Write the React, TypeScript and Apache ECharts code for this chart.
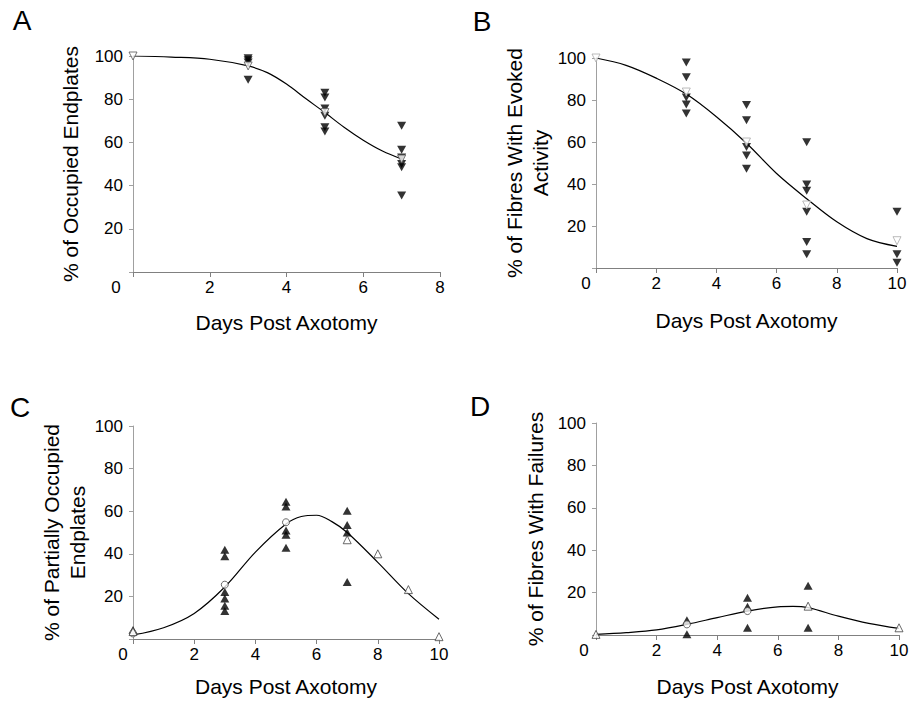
import React, { useEffect, useRef } from "react";
import * as echarts from "echarts";

// ---------- Panel A ----------
const A_CURVE_DAYS = [0, 1, 2, 3, 3.5, 4, 4.5, 5, 5.5, 6, 6.5, 7];
const A_CURVE = [100, 99.5, 98.5, 95.4, 92.3, 87, 80.3, 73.8, 67, 61, 56, 52.3];
const A_FILLED_DAYS = [3, 3, 3, 3, 5, 5, 5, 5, 5, 5, 7, 7, 7, 7, 7, 7];
const A_FILLED = [99, 98, 97, 89, 83, 80.8, 75.7, 72.3, 67, 65, 67.7, 56.6, 53, 50, 48.5, 35.4];
const A_MEAN_DAYS = [0, 3, 5, 7];
const A_MEAN = [100, 95.4, 73.8, 52.3];

// ---------- Panel B ----------
const B_CURVE_DAYS = [0, 1, 2, 3, 4, 5, 6, 7, 8, 9, 10];
const B_CURVE = [100, 96.5, 90.4, 82.8, 72, 59.4, 45, 33, 22, 14, 10.3];
const B_FILLED_DAYS = [3, 3, 3, 3, 3, 5, 5, 5, 5, 5, 7, 7, 7, 7, 7, 7, 10, 10, 10];
const B_FILLED = [97.8, 90.8, 81.2, 77.9, 73.6, 77.6, 70.4, 57.6, 53.6, 47.3, 59.9, 39.8, 36.8, 26.8, 12.4, 6.5, 26.8, 6.5, 2.5];
const B_MEAN_DAYS = [0, 3, 5, 7, 10];
const B_MEAN = [100, 83.8, 60, 30, 13];

// ---------- Panel C ----------
const C_CURVE_DAYS = [0, 1, 2, 3, 4, 5, 5.5, 6, 6.5, 7, 8, 9, 10];
const C_CURVE = [1.9, 5.3, 12, 24.4, 40.8, 54, 57.5, 58.1, 55.1, 50, 36, 21.3, 9.3];
const C_FILLED_DAYS = [0, 3, 3, 3, 3, 3, 3, 5, 5, 5, 5, 5, 7, 7, 7, 7];
const C_FILLED = [4.2, 41.9, 38.9, 22.1, 19, 15.6, 13.1, 64.4, 62.2, 50.9, 48.9, 42.8, 60.2, 53.5, 50, 26.8];
const C_CIRCLE_DAYS = [0, 3, 5];
const C_CIRCLE = [2.6, 25.5, 54.8];
const C_OPEN_TRI_DAYS = [0, 7, 8, 9, 10];
const C_OPEN_TRI = [3.5, 46.6, 40, 23.2, 1.1];

// ---------- Panel D ----------
const D_CURVE_DAYS = [0, 1, 2, 3, 4, 5, 6, 6.5, 7, 8, 9, 10];
const D_CURVE = [0.3, 1.1, 2.4, 5, 8.2, 11.3, 13.3, 13.5, 12.9, 8.9, 5.5, 3.1];
const D_FILLED_DAYS = [3, 3, 5, 5, 5, 7, 7];
const D_FILLED = [7, 0.3, 17.6, 13.3, 3.4, 23.2, 3.4];
const D_CIRCLE_DAYS = [3, 5];
const D_CIRCLE = [5, 11.3];
const D_OPEN_TRI_DAYS = [0, 7, 10];
const D_OPEN_TRI = [0.3, 13.6, 3.4];

// ---------- Text ----------
const X_TITLE = "Days Post Axotomy";
const Y_TITLES = [
  "% of Occupied Endplates",
  "% of Fibres With Evoked\nActivity",
  "% of Partially Occupied\nEndplates",
  "% of Fibres With Failures",
];
const PANEL_LETTERS = ["A", "B", "C", "D"];
const X_MAX = [8, 10, 10, 10];

const FONT = "Liberation Sans, Arial, Helvetica, sans-serif";

const zip = (xs: number[], ys: number[]) => xs.map((x, i) => [x, ys[i]]);

export default function App() {
  const ref = useRef<HTMLDivElement>(null);

  useEffect(() => {
    if (!ref.current) return;
    const chart = echarts.init(ref.current, undefined, { renderer: "svg" });

    const grids = [
      { left: 133, top: 56, width: 307, height: 216 },
      { left: 596, top: 58, width: 301, height: 210 },
      { left: 133, top: 426, width: 306, height: 213 },
      { left: 596, top: 423, width: 303, height: 212 },
    ];
    const zeroPad = [34, 20, 20, 24];
    const xNameGap = [40, 42, 37, 41];
    const yNameGap = [50, 40, 41, 48];

    const xAxis = grids.map((_, i) => ({
      type: "value",
      gridIndex: i,
      min: 0,
      max: X_MAX[i],
      interval: 2,
      name: X_TITLE,
      nameLocation: "middle",
      nameGap: xNameGap[i],
      nameTextStyle: { fontFamily: FONT, fontSize: 21, color: "#000" },
      axisLine: { show: true, lineStyle: { color: "#808080", width: 1 } },
      axisTick: { show: true, length: 5, lineStyle: { color: "#808080" } },
      splitLine: { show: false },
      axisLabel: {
        margin: 7,
        fontFamily: FONT,
        fontSize: 17,
        color: "#000",
        formatter: (v: number) => (v === 0 ? "{z|0}" : String(v)),
        rich: {
          z: { fontFamily: FONT, fontSize: 17, color: "#000", padding: [0, zeroPad[i], 0, 0] },
        },
      },
    }));

    const yAxis = grids.map((_, i) => ({
      type: "value",
      gridIndex: i,
      min: 0,
      max: 100,
      interval: 20,
      name: Y_TITLES[i],
      nameLocation: "middle",
      nameGap: yNameGap[i],
      nameTextStyle: { fontFamily: FONT, fontSize: 21, color: "#000", lineHeight: 26 },
      axisLine: { show: true, lineStyle: { color: "#a0a0a0", width: 1 } },
      axisTick: { show: true, length: 4, lineStyle: { color: "#a0a0a0" } },
      splitLine: { show: false },
      axisLabel: {
        margin: 10,
        fontFamily: FONT,
        fontSize: 17,
        color: "#000",
        formatter: (v: number) => (v === 0 ? "" : String(v)),
      },
    }));

    const filledDown = (i: number, d: number[][]) => ({
      type: "scatter",
      xAxisIndex: i,
      yAxisIndex: i,
      data: d,
      symbol: "triangle",
      symbolRotate: 180,
      symbolSize: [9, 8],
      itemStyle: { color: "#000" },
      z: 2,
    });
    const filledUp = (i: number, d: number[][]) => ({
      type: "scatter",
      xAxisIndex: i,
      yAxisIndex: i,
      data: d,
      symbol: "triangle",
      symbolSize: [9, 8],
      itemStyle: { color: "#000" },
      z: 2,
    });
    const curve = (i: number, d: number[][]) => ({
      type: "line",
      xAxisIndex: i,
      yAxisIndex: i,
      data: d,
      smooth: 0.35,
      showSymbol: false,
      symbol: "none",
      lineStyle: { color: "#000", width: 1.2 },
      z: 3,
    });
    const open = (i: number, d: number[][], symbol: string, rotate: number, stroke: string, size: number) => ({
      type: "scatter",
      xAxisIndex: i,
      yAxisIndex: i,
      data: d,
      symbol,
      symbolRotate: rotate,
      symbolSize: size,
      itemStyle: { color: "#fff", borderColor: stroke, borderWidth: 1 },
      z: 4,
    });

    const series = [
      filledDown(0, zip(A_FILLED_DAYS, A_FILLED)),
      curve(0, zip(A_CURVE_DAYS, A_CURVE)),
      open(0, zip(A_MEAN_DAYS, A_MEAN), "triangle", 180, "#555", 8),

      filledDown(1, zip(B_FILLED_DAYS, B_FILLED)),
      curve(1, zip(B_CURVE_DAYS, B_CURVE)),
      open(1, zip(B_MEAN_DAYS, B_MEAN), "triangle", 180, "#aaa", 8),

      filledUp(2, zip(C_FILLED_DAYS, C_FILLED)),
      curve(2, zip(C_CURVE_DAYS, C_CURVE)),
      open(2, zip(C_CIRCLE_DAYS, C_CIRCLE), "circle", 0, "#444", 7),
      open(2, zip(C_OPEN_TRI_DAYS, C_OPEN_TRI), "triangle", 0, "#444", 8),

      filledUp(3, zip(D_FILLED_DAYS, D_FILLED)),
      curve(3, zip(D_CURVE_DAYS, D_CURVE)),
      open(3, zip(D_CIRCLE_DAYS, D_CIRCLE), "circle", 0, "#444", 7),
      open(3, zip(D_OPEN_TRI_DAYS, D_OPEN_TRI), "triangle", 0, "#444", 8),
    ];

    const letterPos = [
      [22, 20],
      [482, 21],
      [20, 407],
      [480, 406],
    ];

    chart.setOption({
      animation: false,
      backgroundColor: "#fff",
      grid: grids,
      xAxis,
      yAxis,
      series,
      graphic: PANEL_LETTERS.map((t, i) => ({
        type: "text",
        x: letterPos[i][0],
        y: letterPos[i][1],
        style: {
          text: t,
          fontFamily: FONT,
          fontSize: 28,
          fill: "#000",
          align: "center",
          verticalAlign: "middle",
        },
      })),
    });

    return () => chart.dispose();
  }, []);

  return (
    <div
      ref={ref}
      style={{ position: "fixed", left: 0, top: 0, width: 913, height: 701, background: "#fff" }}
    />
  );
}
